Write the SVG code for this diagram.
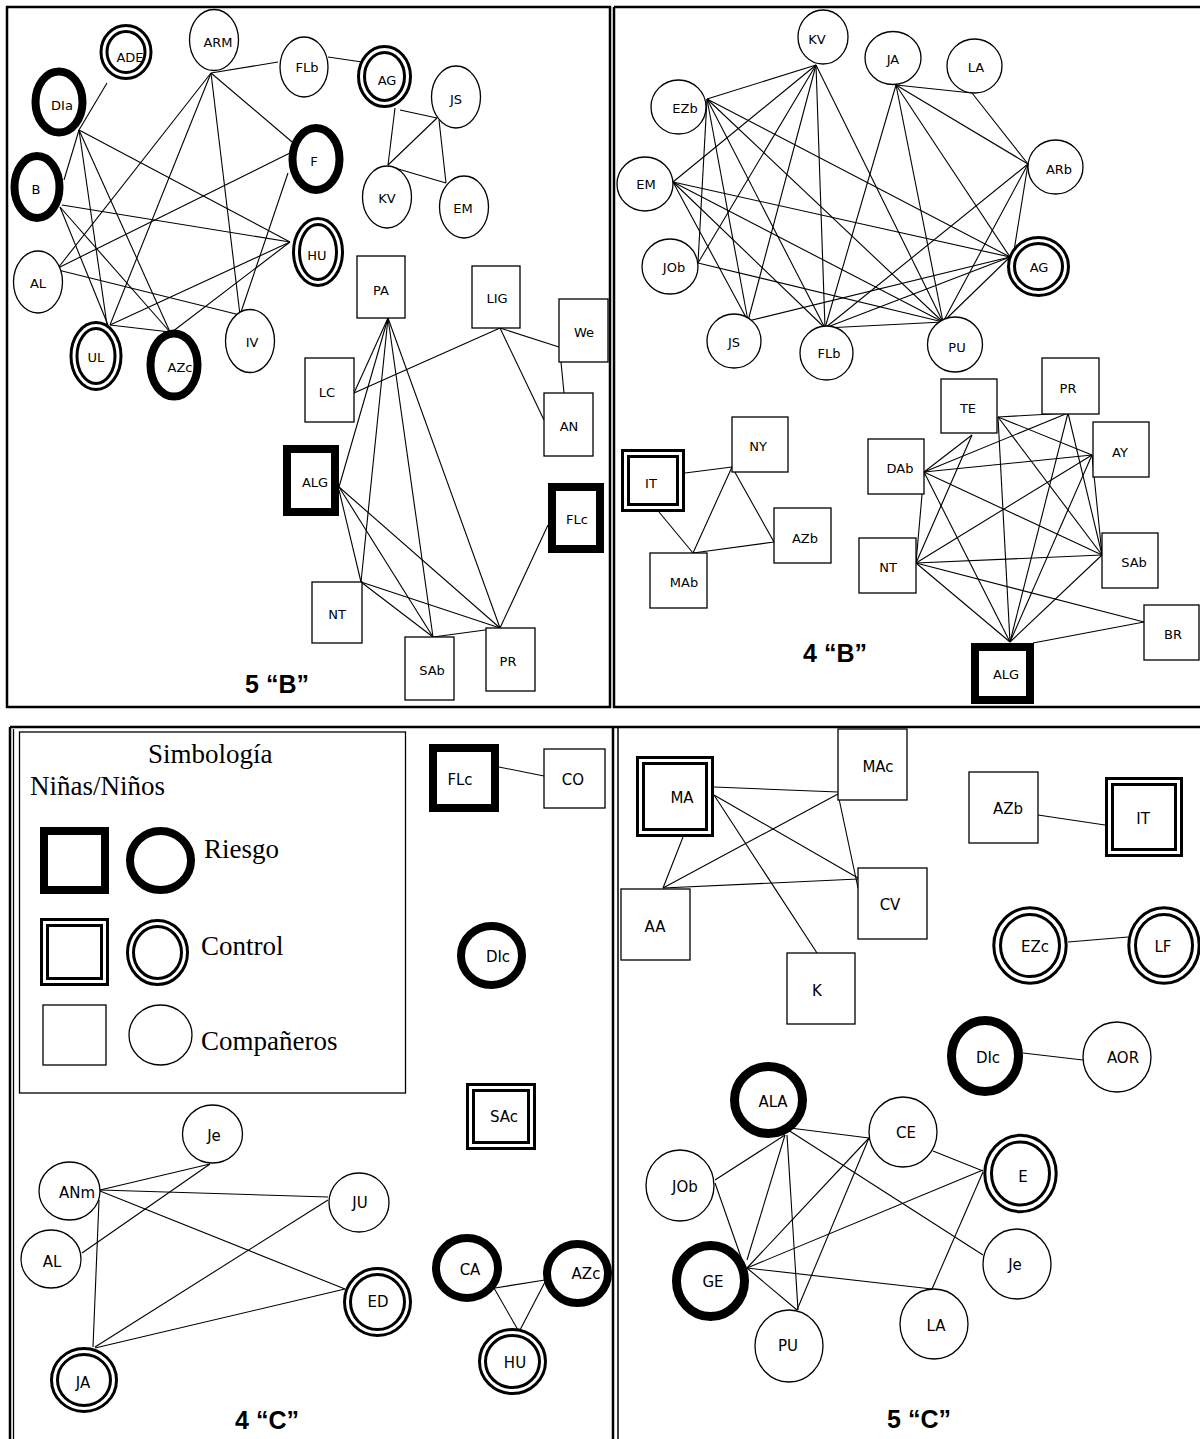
<svg xmlns="http://www.w3.org/2000/svg" width="1200" height="1439" viewBox="0 0 1200 1439">
<style>
.fr{fill:none;stroke:#000;stroke-width:2.5}
.pl{fill:#fff;stroke:#000;stroke-width:1.3}
.rk{fill:#fff;stroke:#000;stroke-width:8}
.rk9{fill:#fff;stroke:#000;stroke-width:9}
.c1{fill:#fff;stroke:#000;stroke-width:3}
.c2{fill:none;stroke:#000;stroke-width:3}
.ed line{stroke:#000;stroke-width:1.1}
.lb{font-family:"DejaVu Sans",sans-serif;font-size:13px;text-anchor:middle;dominant-baseline:central}
.lb2{font-size:15px}
.ttl{font-family:"Liberation Sans",Arial,sans-serif;font-weight:bold;font-size:25px;text-anchor:middle}
.leg{font-family:"Liberation Serif","Times New Roman",serif;font-size:27px}
</style>
<rect width="1200" height="1439" fill="#fff"/>

<!-- panel frames -->
<g id="frames">
<rect class="fr" x="7" y="7" width="603" height="700"/>
<path class="fr" d="M614 7H1202M614 7V707H1202"/>
<path class="fr" d="M10 727H1202M10 727V1441"/>
<path class="fr" d="M13.5 729V1441" style="stroke-width:1.3"/>
<path class="fr" d="M613 727V1441"/>
<path class="fr" d="M618 727V1441" style="stroke-width:1.5"/>
<rect class="fr" x="19.5" y="732" width="386" height="361" style="stroke-width:1.3"/>
</g>

<!-- connectors -->
<g id="connectors" class="ed">
<!-- 5 B -->
<line x1="211" y1="73" x2="278" y2="62"/>
<line x1="211" y1="73" x2="298" y2="147"/>
<line x1="211" y1="73" x2="240" y2="315"/>
<line x1="211" y1="73" x2="58" y2="268"/>
<line x1="211" y1="73" x2="110" y2="325"/>
<line x1="328" y1="57" x2="362" y2="62"/>
<line x1="395" y1="108" x2="388" y2="165"/>
<line x1="400" y1="110" x2="437" y2="118"/>
<line x1="388" y1="165" x2="437" y2="118"/>
<line x1="388" y1="166" x2="446" y2="183"/>
<line x1="439" y1="120" x2="446" y2="183"/>
<line x1="107" y1="83" x2="79" y2="130"/>
<line x1="79" y1="130" x2="64" y2="180"/>
<line x1="79" y1="130" x2="290" y2="242"/>
<line x1="79" y1="130" x2="107" y2="325"/>
<line x1="79" y1="130" x2="170" y2="332"/>
<line x1="62" y1="205" x2="290" y2="242"/>
<line x1="60" y1="207" x2="108" y2="325"/>
<line x1="60" y1="207" x2="170" y2="332"/>
<line x1="58" y1="268" x2="298" y2="149"/>
<line x1="58" y1="270" x2="240" y2="315"/>
<line x1="288" y1="173" x2="240" y2="315"/>
<line x1="290" y1="242" x2="110" y2="325"/>
<line x1="290" y1="242" x2="172" y2="332"/>
<line x1="110" y1="325" x2="170" y2="332"/>
<line x1="388" y1="318" x2="354" y2="393"/>
<line x1="388" y1="318" x2="339" y2="487"/>
<line x1="388" y1="318" x2="361" y2="582"/>
<line x1="388" y1="318" x2="433" y2="637"/>
<line x1="388" y1="318" x2="500" y2="628"/>
<line x1="354" y1="393" x2="500" y2="328"/>
<line x1="500" y1="328" x2="559" y2="347"/>
<line x1="500" y1="328" x2="544" y2="420"/>
<line x1="561" y1="362" x2="564" y2="393"/>
<line x1="339" y1="490" x2="361" y2="582"/>
<line x1="339" y1="487" x2="433" y2="637"/>
<line x1="339" y1="487" x2="500" y2="628"/>
<line x1="361" y1="582" x2="433" y2="637"/>
<line x1="361" y1="582" x2="500" y2="628"/>
<line x1="433" y1="637" x2="500" y2="628"/>
<line x1="500" y1="628" x2="548" y2="525"/>
<!-- 4 B upper -->
<line x1="707" y1="99" x2="816" y2="65"/>
<line x1="707" y1="99" x2="698" y2="263"/>
<line x1="707" y1="99" x2="748" y2="321"/>
<line x1="707" y1="99" x2="1010" y2="257"/>
<line x1="707" y1="99" x2="943" y2="322"/>
<line x1="707" y1="99" x2="825" y2="328"/>
<line x1="673" y1="182" x2="816" y2="65"/>
<line x1="673" y1="182" x2="748" y2="321"/>
<line x1="673" y1="182" x2="1010" y2="257"/>
<line x1="673" y1="182" x2="943" y2="322"/>
<line x1="673" y1="182" x2="825" y2="328"/>
<line x1="698" y1="263" x2="816" y2="65"/>
<line x1="698" y1="263" x2="943" y2="322"/>
<line x1="748" y1="321" x2="816" y2="65"/>
<line x1="748" y1="321" x2="1010" y2="257"/>
<line x1="816" y1="65" x2="825" y2="328"/>
<line x1="816" y1="65" x2="943" y2="322"/>
<line x1="896" y1="85" x2="972" y2="93"/>
<line x1="896" y1="85" x2="1028" y2="164"/>
<line x1="896" y1="85" x2="1010" y2="257"/>
<line x1="896" y1="85" x2="943" y2="322"/>
<line x1="896" y1="85" x2="825" y2="328"/>
<line x1="972" y1="93" x2="1028" y2="164"/>
<line x1="1028" y1="164" x2="1013" y2="257"/>
<line x1="1028" y1="164" x2="943" y2="322"/>
<line x1="1028" y1="164" x2="825" y2="328"/>
<line x1="1010" y1="257" x2="943" y2="322"/>
<line x1="1010" y1="257" x2="825" y2="328"/>
<line x1="943" y1="322" x2="825" y2="328"/>
<!-- 4 B lower -->
<line x1="685" y1="473" x2="732" y2="467"/>
<line x1="659" y1="512" x2="693" y2="553"/>
<line x1="693" y1="553" x2="732" y2="467"/>
<line x1="732" y1="467" x2="774" y2="542"/>
<line x1="693" y1="553" x2="774" y2="542"/>
<line x1="998" y1="417" x2="1068" y2="413"/>
<line x1="998" y1="417" x2="1092" y2="455"/>
<line x1="998" y1="417" x2="1102" y2="555"/>
<line x1="998" y1="417" x2="1010" y2="642"/>
<line x1="972" y1="435" x2="924" y2="472"/>
<line x1="972" y1="435" x2="916" y2="563"/>
<line x1="1068" y1="413" x2="924" y2="472"/>
<line x1="1068" y1="413" x2="1102" y2="555"/>
<line x1="1068" y1="413" x2="1010" y2="642"/>
<line x1="1092" y1="455" x2="924" y2="472"/>
<line x1="1092" y1="455" x2="916" y2="563"/>
<line x1="1092" y1="455" x2="1102" y2="555"/>
<line x1="1092" y1="455" x2="1010" y2="642"/>
<line x1="924" y1="472" x2="916" y2="563"/>
<line x1="924" y1="472" x2="1102" y2="555"/>
<line x1="924" y1="472" x2="1010" y2="642"/>
<line x1="916" y1="563" x2="1102" y2="555"/>
<line x1="916" y1="563" x2="1010" y2="642"/>
<line x1="916" y1="563" x2="1144" y2="622"/>
<line x1="1102" y1="555" x2="1010" y2="642"/>
<line x1="1033" y1="643" x2="1144" y2="622"/>
<!-- 4 C -->
<line x1="499" y1="767" x2="544" y2="776"/>
<line x1="100" y1="1190" x2="210" y2="1164"/>
<line x1="82" y1="1253" x2="210" y2="1164"/>
<line x1="100" y1="1190" x2="328" y2="1197"/>
<line x1="100" y1="1191" x2="345" y2="1289"/>
<line x1="99" y1="1200" x2="93" y2="1347"/>
<line x1="328" y1="1200" x2="95" y2="1347"/>
<line x1="345" y1="1289" x2="95" y2="1348"/>
<line x1="495" y1="1288" x2="545" y2="1280"/>
<line x1="494" y1="1288" x2="518" y2="1330"/>
<line x1="545" y1="1282" x2="520" y2="1330"/>
<!-- 5 C -->
<line x1="714" y1="787" x2="838" y2="792"/>
<line x1="714" y1="795" x2="858" y2="878"/>
<line x1="714" y1="795" x2="817" y2="953"/>
<line x1="683" y1="837" x2="663" y2="888"/>
<line x1="663" y1="888" x2="838" y2="794"/>
<line x1="663" y1="888" x2="858" y2="879"/>
<line x1="838" y1="794" x2="858" y2="888"/>
<line x1="1038" y1="815" x2="1105" y2="825"/>
<line x1="1068" y1="942" x2="1128" y2="937"/>
<line x1="1023" y1="1053" x2="1083" y2="1060"/>
<line x1="785" y1="1135" x2="715" y2="1180"/>
<line x1="785" y1="1135" x2="747" y2="1260"/>
<line x1="787" y1="1135" x2="798" y2="1310"/>
<line x1="790" y1="1128" x2="869" y2="1138"/>
<line x1="785" y1="1128" x2="983" y2="1255"/>
<line x1="715" y1="1183" x2="742" y2="1260"/>
<line x1="747" y1="1268" x2="869" y2="1138"/>
<line x1="747" y1="1268" x2="983" y2="1170"/>
<line x1="747" y1="1268" x2="932" y2="1289"/>
<line x1="747" y1="1268" x2="797" y2="1310"/>
<line x1="797" y1="1310" x2="869" y2="1138"/>
<line x1="933" y1="1151" x2="983" y2="1171"/>
<line x1="983" y1="1172" x2="932" y2="1289"/>
</g>

<!-- 5 B nodes -->
<g id="n5b-ARM"><ellipse class="pl" cx="214" cy="40" rx="24.5" ry="30.5"/><text class="lb" x="218" y="42">ARM</text></g>
<g id="n5b-FLb"><ellipse class="pl" cx="304" cy="67" rx="24" ry="30"/><text class="lb" x="307" y="67">FLb</text></g>
<g id="n5b-AL"><ellipse class="pl" cx="38" cy="282" rx="24.5" ry="31"/><text class="lb" x="38" y="283">AL</text></g>
<g id="n5b-IV"><ellipse class="pl" cx="250" cy="341" rx="24.5" ry="31.5"/><text class="lb" x="252" y="342">IV</text></g>
<g id="n5b-KV"><ellipse class="pl" cx="387" cy="197" rx="24.5" ry="31"/><text class="lb" x="387" y="198">KV</text></g>
<g id="n5b-JS"><ellipse class="pl" cx="456" cy="97" rx="24.5" ry="31"/><text class="lb" x="456" y="99">JS</text></g>
<g id="n5b-EM"><ellipse class="pl" cx="464" cy="207" rx="24.5" ry="31"/><text class="lb" x="463" y="208">EM</text></g>
<g id="n5b-DIa"><ellipse class="rk" cx="59" cy="102" rx="23.5" ry="30.5"/><text class="lb" x="62" y="105">DIa</text></g>
<g id="n5b-B"><ellipse class="rk" cx="37" cy="187" rx="22.5" ry="31"/><text class="lb" x="36" y="189">B</text></g>
<g id="n5b-F"><ellipse class="rk" cx="316" cy="159" rx="23.5" ry="31"/><text class="lb" x="314" y="161">F</text></g>
<g id="n5b-AZc"><ellipse class="rk" cx="174" cy="365" rx="23.5" ry="31.5"/><text class="lb" x="180" y="367">AZc</text></g>
<g id="n5b-ADE"><ellipse class="c1" cx="126" cy="52" rx="25" ry="26.5"/><ellipse class="c2" cx="126" cy="52" rx="19" ry="20.5"/><text class="lb" x="130" y="57">ADE</text></g>
<g id="n5b-AG"><ellipse class="c1" cx="384.5" cy="76.5" rx="26" ry="30"/><ellipse class="c2" cx="384.5" cy="76.5" rx="20" ry="24"/><text class="lb" x="387" y="80">AG</text></g>
<g id="n5b-HU"><ellipse class="c1" cx="318" cy="252" rx="24.5" ry="33.5"/><ellipse class="c2" cx="318" cy="252" rx="18.5" ry="27.5"/><text class="lb" x="317" y="255">HU</text></g>
<g id="n5b-UL"><ellipse class="c1" cx="96" cy="356" rx="25" ry="33.5"/><ellipse class="c2" cx="96" cy="356" rx="19" ry="27.5"/><text class="lb" x="96" y="357">UL</text></g>
<g id="n5b-PA"><rect class="pl" x="357" y="256" width="48" height="62"/><text class="lb" x="381" y="290">PA</text></g>
<g id="n5b-LIG"><rect class="pl" x="472" y="266" width="48" height="62"/><text class="lb" x="497" y="298">LIG</text></g>
<g id="n5b-We"><rect class="pl" x="559" y="299" width="49" height="63"/><text class="lb" x="584" y="332">We</text></g>
<g id="n5b-AN"><rect class="pl" x="544" y="393" width="49" height="63"/><text class="lb" x="569" y="426">AN</text></g>
<g id="n5b-LC"><rect class="pl" x="305" y="358" width="49" height="64"/><text class="lb" x="327" y="392">LC</text></g>
<g id="n5b-NT"><rect class="pl" x="312" y="582" width="50" height="61"/><text class="lb" x="337" y="614">NT</text></g>
<g id="n5b-SAb"><rect class="pl" x="405" y="637" width="49" height="63"/><text class="lb" x="432" y="670">SAb</text></g>
<g id="n5b-PR"><rect class="pl" x="486" y="628" width="49" height="63"/><text class="lb" x="508" y="661">PR</text></g>
<g id="n5b-ALG"><rect class="rk" x="287" y="449" width="48" height="63"/><text class="lb" x="315" y="482">ALG</text></g>
<g id="n5b-FLc"><rect class="rk" x="552" y="487" width="48" height="62"/><text class="lb" x="577" y="519">FLc</text></g>
<text class="ttl" x="277" y="693">5 “B”</text>

<!-- 4 B nodes -->
<g id="n4b-KV"><ellipse class="pl" cx="823" cy="37" rx="25" ry="27"/><text class="lb" x="817" y="39">KV</text></g>
<g id="n4b-JA"><ellipse class="pl" cx="893" cy="58" rx="28" ry="26.5"/><text class="lb" x="893" y="59">JA</text></g>
<g id="n4b-LA"><ellipse class="pl" cx="974.5" cy="66" rx="27.5" ry="27"/><text class="lb" x="976" y="67">LA</text></g>
<g id="n4b-ARb"><ellipse class="pl" cx="1055.5" cy="167" rx="27.5" ry="27"/><text class="lb" x="1059" y="169">ARb</text></g>
<g id="n4b-PU"><ellipse class="pl" cx="955" cy="344.5" rx="27.5" ry="27.5"/><text class="lb" x="957" y="347">PU</text></g>
<g id="n4b-FLb"><ellipse class="pl" cx="826.5" cy="353" rx="26.5" ry="27"/><text class="lb" x="829" y="353">FLb</text></g>
<g id="n4b-EZb"><ellipse class="pl" cx="678.5" cy="107" rx="27.5" ry="27"/><text class="lb" x="685" y="108">EZb</text></g>
<g id="n4b-EM"><ellipse class="pl" cx="645" cy="184" rx="28" ry="27"/><text class="lb" x="646" y="184">EM</text></g>
<g id="n4b-JOb"><ellipse class="pl" cx="670" cy="266.5" rx="28" ry="27.5"/><text class="lb" x="674" y="267">JOb</text></g>
<g id="n4b-JS"><ellipse class="pl" cx="734" cy="341" rx="27" ry="27"/><text class="lb" x="734" y="342">JS</text></g>
<g id="n4b-AG"><ellipse class="c1" cx="1038.5" cy="266.5" rx="30" ry="29"/><ellipse class="c2" cx="1038.5" cy="266.5" rx="24" ry="23"/><text class="lb" x="1039" y="267">AG</text></g>
<g id="n4b-IT"><rect class="c1" x="622.5" y="450.5" width="61" height="60"/><rect class="c2" x="628.5" y="456.5" width="49" height="48"/><text class="lb" x="651" y="483">IT</text></g>
<g id="n4b-NY"><rect class="pl" x="732" y="417" width="56" height="55"/><text class="lb" x="758" y="446">NY</text></g>
<g id="n4b-AZb"><rect class="pl" x="774" y="508" width="57" height="55"/><text class="lb" x="805" y="538">AZb</text></g>
<g id="n4b-MAb"><rect class="pl" x="650" y="553" width="57" height="55"/><text class="lb" x="684" y="582">MAb</text></g>
<g id="n4b-TE"><rect class="pl" x="941" y="379" width="56" height="54"/><text class="lb" x="968" y="408">TE</text></g>
<g id="n4b-PR"><rect class="pl" x="1042" y="358" width="57" height="56"/><text class="lb" x="1068" y="388">PR</text></g>
<g id="n4b-AY"><rect class="pl" x="1093" y="422" width="56" height="55"/><text class="lb" x="1120" y="452">AY</text></g>
<g id="n4b-DAb"><rect class="pl" x="868" y="439" width="56" height="55"/><text class="lb" x="900" y="468">DAb</text></g>
<g id="n4b-NT"><rect class="pl" x="859" y="538" width="57" height="55"/><text class="lb" x="888" y="567">NT</text></g>
<g id="n4b-SAb"><rect class="pl" x="1102" y="533" width="56" height="55"/><text class="lb" x="1134" y="562">SAb</text></g>
<g id="n4b-BR"><rect class="pl" x="1144" y="605" width="55" height="55"/><text class="lb" x="1173" y="634">BR</text></g>
<g id="n4b-ALG"><rect class="rk" x="975" y="647" width="55" height="53"/><text class="lb" x="1006" y="674">ALG</text></g>
<text class="ttl" x="835" y="662">4 “B”</text>

<!-- legend -->
<g id="legend">
<text class="leg" x="148" y="763">Simbología</text>
<text class="leg" x="30" y="795">Niñas/Niños</text>
<rect class="rk" x="44" y="831" width="61" height="59"/>
<ellipse class="rk" cx="160.5" cy="860.5" rx="30.5" ry="29.5"/>
<text class="leg" x="204" y="858">Riesgo</text>
<rect class="c1" x="41.5" y="919.5" width="66" height="65"/>
<rect class="c2" x="47.5" y="925.5" width="54" height="53"/>
<ellipse class="c1" cx="157.5" cy="952.5" rx="30" ry="32"/>
<ellipse class="c2" cx="157.5" cy="952.5" rx="24" ry="26"/>
<text class="leg" x="201" y="955">Control</text>
<rect class="pl" x="43" y="1005" width="63" height="60"/>
<ellipse class="pl" cx="160.5" cy="1035" rx="31.5" ry="30"/>
<text class="leg" x="201" y="1050">Compañeros</text>
</g>

<!-- 4 C nodes -->
<g id="n4c-FLc"><rect class="rk" x="433" y="748" width="62" height="60"/><text class="lb lb2" x="460" y="780">FLc</text></g>
<g id="n4c-CO"><rect class="pl" x="544" y="749" width="61" height="59"/><text class="lb lb2" x="573" y="780">CO</text></g>
<g id="n4c-DIc"><ellipse class="rk" cx="491.5" cy="955.5" rx="30.5" ry="29.5"/><text class="lb lb2" x="498" y="957">DIc</text></g>
<g id="n4c-SAc"><rect class="c1" x="467.5" y="1084.5" width="67" height="64"/><rect class="c2" x="473.5" y="1090.5" width="55" height="52"/><text class="lb lb2" x="504" y="1117">SAc</text></g>
<g id="n4c-CA"><ellipse class="rk" cx="467" cy="1268" rx="31" ry="30"/><text class="lb lb2" x="470" y="1270">CA</text></g>
<g id="n4c-AZc"><ellipse class="rk" cx="577.5" cy="1273.5" rx="30.5" ry="29.5"/><text class="lb lb2" x="586" y="1274">AZc</text></g>
<g id="n4c-HU"><ellipse class="c1" cx="512.5" cy="1361.5" rx="33" ry="32"/><ellipse class="c2" cx="512.5" cy="1361.5" rx="27" ry="26"/><text class="lb lb2" x="515" y="1363">HU</text></g>
<g id="n4c-Je"><ellipse class="pl" cx="212.5" cy="1134" rx="30" ry="29"/><text class="lb lb2" x="214" y="1136">Je</text></g>
<g id="n4c-ANm"><ellipse class="pl" cx="69.5" cy="1191" rx="30.5" ry="29"/><text class="lb lb2" x="77" y="1193">ANm</text></g>
<g id="n4c-AL"><ellipse class="pl" cx="51" cy="1259" rx="30" ry="29"/><text class="lb lb2" x="52" y="1262">AL</text></g>
<g id="n4c-JU"><ellipse class="pl" cx="359" cy="1202.5" rx="30" ry="29.5"/><text class="lb lb2" x="360" y="1203">JU</text></g>
<g id="n4c-ED"><ellipse class="c1" cx="377.5" cy="1302" rx="33" ry="33.5"/><ellipse class="c2" cx="377.5" cy="1302" rx="27" ry="27.5"/><text class="lb lb2" x="378" y="1302">ED</text></g>
<g id="n4c-JA"><ellipse class="c1" cx="84" cy="1380" rx="32.5" ry="31.5"/><ellipse class="c2" cx="84" cy="1380" rx="26.5" ry="25.5"/><text class="lb lb2" x="83" y="1383">JA</text></g>
<text class="ttl" x="267" y="1429">4 “C”</text>

<!-- 5 C nodes -->
<g id="n5c-MA"><rect class="c1" x="637.5" y="757.5" width="75" height="78"/><rect class="c2" x="643.5" y="763.5" width="63" height="66"/><text class="lb lb2" x="682" y="798">MA</text></g>
<g id="n5c-AA"><rect class="pl" x="621" y="889" width="69" height="71"/><text class="lb lb2" x="655" y="927">AA</text></g>
<g id="n5c-MAc"><rect class="pl" x="838" y="729" width="69" height="71"/><text class="lb lb2" x="878" y="767">MAc</text></g>
<g id="n5c-CV"><rect class="pl" x="858" y="868" width="69" height="71"/><text class="lb lb2" x="890" y="905">CV</text></g>
<g id="n5c-K"><rect class="pl" x="787" y="953" width="68" height="71"/><text class="lb lb2" x="817" y="991">K</text></g>
<g id="n5c-AZb"><rect class="pl" x="969" y="772" width="69" height="71"/><text class="lb lb2" x="1008" y="809">AZb</text></g>
<g id="n5c-IT"><rect class="c1" x="1106.5" y="778.5" width="75" height="77"/><rect class="c2" x="1112.5" y="784.5" width="63" height="65"/><text class="lb lb2" x="1143" y="819">IT</text></g>
<g id="n5c-EZc"><ellipse class="c1" cx="1030" cy="945.5" rx="36.2" ry="37.7"/><ellipse class="c2" cx="1030" cy="945.5" rx="29.5" ry="31"/><text class="lb lb2" x="1035" y="947">EZc</text></g>
<g id="n5c-LF"><ellipse class="c1" cx="1164" cy="945.5" rx="35.2" ry="37.7"/><ellipse class="c2" cx="1164" cy="945.5" rx="28.5" ry="31"/><text class="lb lb2" x="1163" y="947">LF</text></g>
<g id="n5c-DIc"><ellipse class="rk9" cx="985" cy="1056" rx="33.5" ry="35.5"/><text class="lb lb2" x="988" y="1058">DIc</text></g>
<g id="n5c-AOR"><ellipse class="pl" cx="1117" cy="1057" rx="34" ry="35"/><text class="lb lb2" x="1123" y="1058">AOR</text></g>
<g id="n5c-ALA"><ellipse class="rk9" cx="768.5" cy="1100" rx="34" ry="33.5"/><text class="lb lb2" x="773" y="1102">ALA</text></g>
<g id="n5c-JOb"><ellipse class="pl" cx="680" cy="1185.5" rx="34" ry="35.5"/><text class="lb lb2" x="685" y="1187">JOb</text></g>
<g id="n5c-GE"><ellipse class="rk9" cx="710.5" cy="1281" rx="34" ry="35.5"/><text class="lb lb2" x="713" y="1282">GE</text></g>
<g id="n5c-PU"><ellipse class="pl" cx="789" cy="1346" rx="34" ry="36"/><text class="lb lb2" x="788" y="1346">PU</text></g>
<g id="n5c-CE"><ellipse class="pl" cx="903" cy="1132" rx="34" ry="35"/><text class="lb lb2" x="906" y="1133">CE</text></g>
<g id="n5c-E"><ellipse class="c1" cx="1020.5" cy="1173.5" rx="35.7" ry="38.2"/><ellipse class="c2" cx="1020.5" cy="1173.5" rx="29" ry="31.5"/><text class="lb lb2" x="1023" y="1177">E</text></g>
<g id="n5c-Je"><ellipse class="pl" cx="1017" cy="1264" rx="34" ry="35"/><text class="lb lb2" x="1015" y="1265">Je</text></g>
<g id="n5c-LA"><ellipse class="pl" cx="934" cy="1324" rx="34" ry="35"/><text class="lb lb2" x="936" y="1326">LA</text></g>
<text class="ttl" x="919" y="1428">5 “C”</text>
</svg>
